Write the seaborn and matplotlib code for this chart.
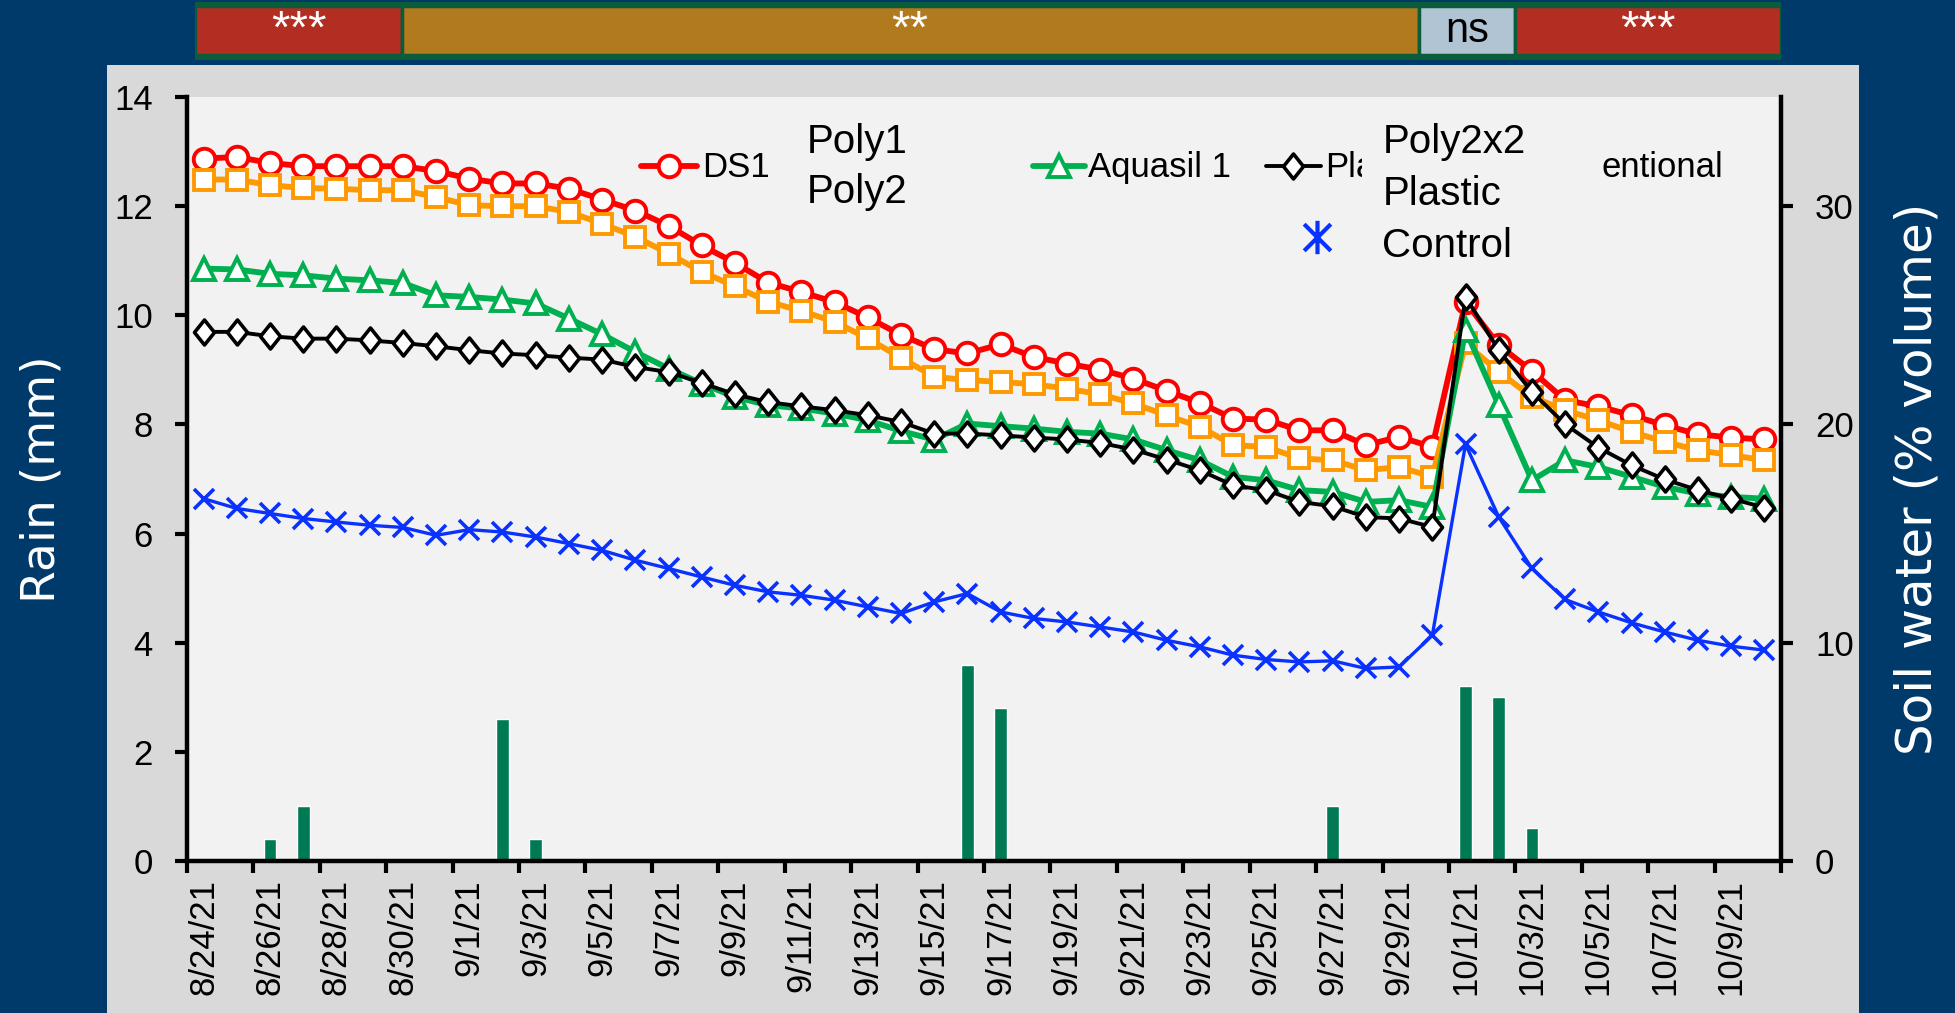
import matplotlib
matplotlib.use("Agg")
import matplotlib.pyplot as plt
from matplotlib.patches import Rectangle
from matplotlib.lines import Line2D
from matplotlib.path import Path
import seaborn as sns
import numpy as np
import pandas as pd

# ---- data -------------------------------------------------------------
dates = pd.date_range("2021-08-24", periods=48)
date_labels = [f"{d.month}/{d.day}/21" for d in dates]
day_idx = list(range(len(dates)))

# rain (mm), left axis
rain_mm = [0, 0, 0.4, 1.0, 0, 0, 0, 0, 0, 2.6,
           0.4, 0, 0, 0, 0, 0, 0, 0, 0, 0,
           0, 0, 0, 3.6, 2.8, 0, 0, 0, 0, 0,
           0, 0, 0, 0, 1.0, 0, 0, 0, 3.2, 3.0,
           0.6, 0, 0, 0, 0, 0, 0, 0]

# soil water (% volume), right axis
ds1 = [32.18, 32.25, 31.98, 31.83, 31.83, 31.83, 31.83, 31.61, 31.26, 31.04,
       31.04, 30.8, 30.3, 29.8, 29.1, 28.2, 27.4, 26.5, 26.07, 25.6,
       24.9, 24.1, 23.45, 23.25, 23.67, 23.09, 22.79, 22.51, 22.1, 21.54,
       20.99, 20.27, 20.22, 19.73, 19.73, 19.05, 19.43, 18.97, 25.61, 23.63,
       22.45, 21.11, 20.83, 20.42, 19.96, 19.55, 19.4, 19.31]
poly1 = [31.22, 31.22, 30.96, 30.83, 30.8, 30.73, 30.73, 30.42, 30.04, 30.0,
         30.0, 29.73, 29.2, 28.6, 27.83, 26.99, 26.33, 25.62, 25.2, 24.7,
         23.94, 23.05, 22.18, 22.03, 21.95, 21.84, 21.64, 21.38, 20.96, 20.42,
         19.89, 19.05, 18.97, 18.44, 18.36, 17.9, 18.05, 17.6, 23.71, 22.41,
         21.26, 20.65, 20.19, 19.66, 19.2, 18.82, 18.59, 18.36]
aquasil = [27.14, 27.1, 26.9, 26.83, 26.68, 26.6, 26.48, 25.92, 25.84, 25.72,
           25.54, 24.85, 24.13, 23.32, 22.56, 21.87, 21.26, 20.88, 20.73, 20.5,
           20.19, 19.7, 19.3, 20.04, 19.92, 19.81, 19.66, 19.58, 19.31, 18.82,
           18.36, 17.6, 17.44, 16.99, 16.91, 16.45, 16.53, 16.22, 24.32, 20.88,
           17.44, 18.36, 18.05, 17.6, 17.14, 16.83, 16.68, 16.6]
plastic = [24.24, 24.24, 24.04, 23.93, 23.93, 23.85, 23.73, 23.58, 23.4, 23.25,
           23.17, 23.06, 22.97, 22.63, 22.4, 21.9, 21.38, 21.02, 20.83, 20.65,
           20.42, 20.11, 19.58, 19.58, 19.5, 19.4, 19.31, 19.15, 18.85, 18.39,
           17.9, 17.21, 16.99, 16.45, 16.25, 15.76, 15.69, 15.3, 25.84, 23.4,
           21.49, 20.01, 18.94, 18.13, 17.48, 16.99, 16.6, 16.19]
control = [16.6, 16.15, 15.92, 15.69, 15.53, 15.38, 15.28, 14.92, 15.18, 15.07,
           14.84, 14.54, 14.23, 13.78, 13.4, 13.01, 12.63, 12.33, 12.17, 11.95,
           11.64, 11.34, 11.87, 12.25, 11.41, 11.11, 10.95, 10.72, 10.49, 10.11,
           9.81, 9.43, 9.23, 9.12, 9.17, 8.82, 8.89, 10.34, 19.09, 15.76,
           13.4, 11.98, 11.41, 10.91, 10.49, 10.11, 9.84, 9.66]

# significance bar on top (length of each period in days)
sig_labels = ["***", "**", "ns", "***"]
sig_days = [6.2, 30.6, 2.9, 8.0]

# ---- style ------------------------------------------------------------
sns.set_theme(style="white")
plt.rcParams["font.family"] = ["Liberation Sans", "DejaVu Sans"]

navy = "#003a6b"
panel = "#d9d9d9"
plot_bg = "#f2f2f2"
frame_green = "#0a5c3a"
bar_green = "#007a55"
sig_colors = ["#b22d22", "#b27a1e", "#b0c4d4", "#b22d22"]
sig_text = ["white", "white", "black", "white"]

diamond = Path([(0, 1), (0.8, 0), (0, -1), (-0.8, 0), (0, 1)], closed=True)
star = Path([(-1, -1), (1, 1), (-1, 1), (1, -1), (0, -1.25), (0, 1.25)],
            [Path.MOVETO, Path.LINETO, Path.MOVETO, Path.LINETO,
             Path.MOVETO, Path.LINETO])

series = [
    (ds1, dict(color="#ff0000", linewidth=4.2, marker="o", markersize=15.5,
               markerfacecolor="white", markeredgecolor="#ff0000", markeredgewidth=2.8)),
    (poly1, dict(color="#ff9900", linewidth=4.2, marker="s", markersize=14.5,
                 markerfacecolor="white", markeredgecolor="#ff9900", markeredgewidth=2.8)),
    (aquasil, dict(color="#00b050", linewidth=4.2, marker="^", markersize=15.5,
                   markerfacecolor="white", markeredgecolor="#00b050", markeredgewidth=2.8)),
    (plastic, dict(color="black", linewidth=2.8, marker=diamond, markersize=18,
                   markerfacecolor="white", markeredgecolor="black", markeredgewidth=2.6)),
    (control, dict(color="#0a32ff", linewidth=2.4, marker="x", markersize=14,
                   markerfacecolor="none", markeredgecolor="#0a32ff", markeredgewidth=2.6)),
]

W, H = 1956, 1013
fig = plt.figure(figsize=(W / 100, H / 100), dpi=100)
fig.set_facecolor(navy)
fig.add_artist(Rectangle((107 / W, 0), (1859 - 107) / W, 1 - 65 / H,
                         transform=fig.transFigure, facecolor=panel,
                         edgecolor="none", zorder=-1))

ax = fig.add_axes([187 / W, 1 - 861 / H, (1781 - 187) / W, (861 - 97) / H])
ax.set_facecolor(plot_bg)

rain_df = pd.DataFrame({"day": day_idx, "rain": rain_mm})
sns.barplot(data=rain_df, x="day", y="rain", native_scale=True, orient="x",
            width=0.38, color=bar_green, saturation=1, ax=ax)

ax2 = ax.twinx()
for vals, kw in series:
    sns.lineplot(x=day_idx, y=vals, ax=ax2, **kw)

# ---- axes -------------------------------------------------------------
ax.set_xlim(-0.5, len(dates) - 0.5)
ax.set_ylim(0, 14)
ax.set_yticks(range(0, 15, 2))
ax2.set_ylim(0, 35)
ax2.set_yticks([0, 10, 20, 30])
ax.set_xlabel("")
ax.set_ylabel("")
ax2.set_ylabel("")

ax.set_xticks(np.arange(-0.5, len(dates), 2))
ax.set_xticklabels([])
ax.set_xticks(np.arange(0, len(dates), 2), minor=True)
ax.set_xticklabels(date_labels[::2], minor=True, rotation=90)

tick_font = 25
ax.tick_params(axis="x", which="major", direction="out", length=8.5, width=3,
               color="black", bottom=True)
ax.tick_params(axis="x", which="minor", length=0, pad=13, labelsize=tick_font,
               labelcolor="black", bottom=True)
ax.tick_params(axis="y", direction="out", length=8.5, width=3, pad=16,
               labelsize=tick_font, labelcolor="black", color="black", left=True)
ax2.tick_params(axis="y", direction="out", length=8.5, width=3, pad=16,
                labelsize=tick_font, labelcolor="black", color="black", right=True)

for name, sp in ax.spines.items():
    sp.set_visible(name in ("left", "bottom"))
    sp.set_linewidth(3.2)
    sp.set_color("black")
for name, sp in ax2.spines.items():
    sp.set_visible(name == "right")
    sp.set_linewidth(3.2)
    sp.set_color("black")
ax.grid(False)
ax2.grid(False)

fig.text(42 / W, 0.527, "Rain (mm)", rotation=90, ha="center", va="center",
         color="white", fontsize=34, family="DejaVu Sans")
fig.text(1918 / W, 0.527, "Soil water (% volume)", rotation=90, ha="center",
         va="center", color="white", fontsize=36, family="DejaVu Sans")


# ---- legend (overlapping keys and labels, as in the original) ---------
def legend_key(x0, x1, y, kw):
    mid = (x0 + x1) / 2
    line = Line2D([x0, mid, x1], [y, y, y], transform=ax2.transAxes,
                  clip_on=False, markevery=[1], zorder=4, **kw)
    ax2.add_line(line)


key_y = 0.9103
row_y = 0.8957
legend_key(0.2846, 0.3198, key_y, series[0][1])
legend_key(0.5306, 0.5631, key_y, series[2][1])
legend_key(0.6767, 0.7114, key_y, series[3][1])
for x, s in [(0.3229, "DS1"), (0.5652, "Aquasil 1"), (0.7139, "Pla"),
             (0.8877, "entional")]:
    ax2.text(x, row_y, s, transform=ax2.transAxes, fontsize=25, ha="left",
             va="baseline", color="black", zorder=4)

# box that hides part of the key row
ax2.add_patch(Rectangle((0.7371, 0.8455), 0.8860 - 0.7371, 0.9804 - 0.8455,
                        transform=ax2.transAxes, facecolor=plot_bg,
                        edgecolor="none", zorder=5, clip_on=False))

for x, y, s in [(0.3890, 0.9263, "Poly1"), (0.3890, 0.8609, "Poly2"),
                (0.75, 0.9263, "Poly2x2"), (0.75, 0.8586, "Plastic"),
                (0.75, 0.791, "Control")]:
    ax2.text(x, y, s, transform=ax2.transAxes, fontsize=29, ha="left",
             va="baseline", color="black", zorder=6)

ctrl_kw = dict(series[4][1])
ctrl_kw.update(marker=star, markersize=24, markeredgewidth=3, linestyle="none")
ax2.add_line(Line2D([0.7092], [0.8172], transform=ax2.transAxes,
                    clip_on=False, zorder=6, **ctrl_kw))

# ---- significance bar -------------------------------------------------
axb = fig.add_axes([195.5 / W, 1 - 60 / H, (1781 - 195.5) / W, 58.3 / H])
axb.set_facecolor(frame_green)
lefts = np.cumsum([0] + sig_days[:-1])
axb.barh(0.5, sig_days, left=lefts, height=0.84, color=sig_colors,
         edgecolor=frame_green, linewidth=2.5)
for lab, l, w, c in zip(sig_labels, lefts, sig_days, sig_text):
    axb.text(l + w / 2, 0.5, lab, ha="center", va="center", color=c,
             fontsize=30 if lab == "ns" else 34)
axb.set_xlim(0, sum(sig_days))
axb.set_ylim(0, 1)
axb.set_xticks([])
axb.set_yticks([])
for sp in axb.spines.values():
    sp.set_visible(False)

fig.savefig("out.png", dpi=100, facecolor=fig.get_facecolor())
